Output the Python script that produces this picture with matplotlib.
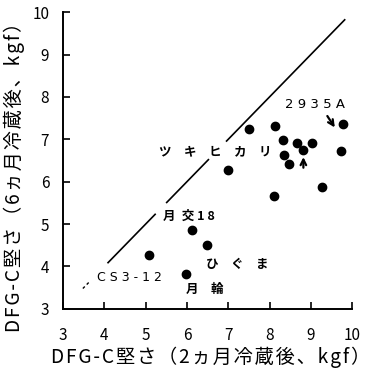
import numpy as np
import matplotlib.pyplot as plt

plt.rcParams['font.family'] = ['Noto Sans CJK JP', 'DejaVu Sans']

# hardness after 2 months (x) and 6 months (y) of cold storage, kgf
x2 = [7.51, 8.13, 9.77, 8.33, 8.66, 9.02, 8.82, 8.35, 8.46, 9.72, 7.00, 9.26,
      8.12, 6.12, 6.48, 5.98, 5.07]
y6 = [7.24, 7.32, 7.36, 6.99, 6.92, 6.91, 6.75, 6.63, 6.41, 6.72, 6.28, 5.87,
      5.67, 4.86, 4.50, 3.83, 4.27]

ticks = [3, 4, 5, 6, 7, 8, 9, 10]

# y = x reference line, broken where the labels sit
solid_parts = [(4.09, 5.23), (5.51, 6.52), (6.96, 9.82)]
dotted_part = (3.48, 3.66)


def spaced(s):
    # the scanned labels are letter-spaced
    return '\u200a'.join(s)


fig = plt.figure(figsize=(3.73, 3.69), dpi=100)
ax = fig.add_axes([0.169, 0.163, 0.775, 0.804])

for a, b in solid_parts:
    ax.plot([a, b], [a, b], color='black', lw=1.2)
ax.plot(list(dotted_part), list(dotted_part), color='black', lw=1.0,
        linestyle=(0, (2, 2)))

ax.scatter(x2, y6, s=36, color='black', zorder=5)

# cultivar labels
ax.text(5.33, 6.70, 'ツ\u3000キ\u3000ヒ\u3000カ\u3000リ', fontsize=9, va='center',
        fontweight='bold')
ax.text(8.37, 7.83, '2 9 3 5 A', fontsize=9.5, va='center', family='DejaVu Sans')
ax.text(5.42, 5.19, '月\u2002交 1 8', fontsize=9, va='center', fontweight='bold')
ax.text(6.47, 4.04, 'ひ\u3000ぐ\u3000ま', fontsize=9, va='center', fontweight='bold')
ax.text(5.98, 3.45, '月\u3000輪', fontsize=9, va='center', fontweight='bold')
ax.text(3.82, 3.73, 'C S 3 - 1 2', fontsize=9, va='center', family='DejaVu Sans')

arrow = dict(arrowstyle='->', lw=1.6, color='black', shrinkA=0, shrinkB=0)
ax.annotate('', xy=(9.58, 7.28), xytext=(9.40, 7.55), arrowprops=arrow)
ax.annotate('', xy=(8.82, 6.58), xytext=(8.82, 6.33), arrowprops=arrow)

ax.set_xlim(3, 10)
ax.set_ylim(3, 10)
ax.set_xticks(ticks)
ax.set_yticks(ticks)
ax.tick_params(direction='in', length=5, width=1.2, labelsize=11)
ax.tick_params(axis='x', pad=13)
ax.tick_params(axis='y', pad=10)
ax.spines['top'].set_visible(False)
ax.spines['right'].set_visible(False)
ax.spines['left'].set_linewidth(1.4)
ax.spines['bottom'].set_linewidth(1.4)
ax.spines['left'].set_bounds(3, 10)
ax.spines['bottom'].set_bounds(3, 10)

ax.set_xlabel(spaced('DFG-C堅さ（2ヵ月冷蔵後、kgf）'), fontsize=13.8)
ax.set_ylabel(spaced('DFG-C堅さ（6ヵ月冷蔵後、kgf）'), fontsize=13.8)
ax.xaxis.set_label_coords(0.51, -0.128)
ax.yaxis.set_label_coords(-0.13, 0.46)

fig.savefig('out.png', dpi=100)
